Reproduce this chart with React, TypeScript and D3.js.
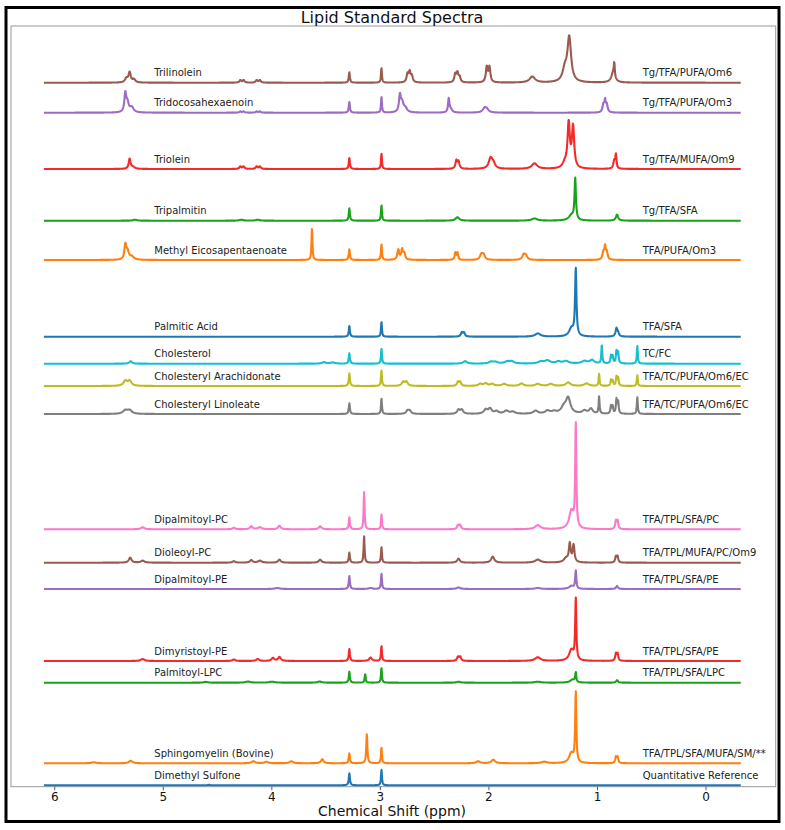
import React from 'react';
import * as d3 from 'd3';

// Spectrum names (left) and lipid classes (right), top to bottom
const names = [
  'Trilinolein', 'Tridocosahexaenoin', 'Triolein', 'Tripalmitin', 'Methyl Eicosapentaenoate',
  'Palmitic Acid', 'Cholesterol', 'Cholesteryl Arachidonate', 'Cholesteryl Linoleate',
  'Dipalmitoyl-PC', 'Dioleoyl-PC', 'Dipalmitoyl-PE', 'Dimyristoyl-PE', 'Palmitoyl-LPC',
  'Sphingomyelin (Bovine)', 'Dimethyl Sulfone',
];
const classes = [
  'Tg/TFA/PUFA/Om6', 'Tg/TFA/PUFA/Om3', 'Tg/TFA/MUFA/Om9', 'Tg/TFA/SFA', 'TFA/PUFA/Om3',
  'TFA/SFA', 'TC/FC', 'TFA/TC/PUFA/Om6/EC', 'TFA/TC/PUFA/Om6/EC',
  'TFA/TPL/SFA/PC', 'TFA/TPL/MUFA/PC/Om9', 'TFA/TPL/SFA/PE', 'TFA/TPL/SFA/PE', 'TFA/TPL/SFA/LPC',
  'TFA/TPL/SFA/MUFA/SM/**', 'Quantitative Reference',
];
const colors = [
  '#9a5a4e', '#9c6bc4', '#f42a2a', '#1aa31a', '#ff800e',
  '#1f77b4', '#17becf', '#bcbd22', '#7f7f7f',
  '#fb79c6', '#9a5a4e', '#9c6bc4', '#f42a2a', '#1aa31a',
  '#ff800e', '#1f77b4',
];
// vertical offset of each spectrum (intensity units)
const offsets = [702.6, 672.6, 616.3, 564.6, 525.3, 448.6, 421.6, 399.3, 371.3, 256, 222.6, 196.3, 124.3, 102.6, 22, 0];

type Peak = [number, number, number]; // [ppm, height, FWHM ppm]

const trilinolein: Peak[] = [
  [5.34, 4, 0.03], [5.31, 10, 0.025], [5.27, 3, 0.03],
  [4.29, 2.5, 0.02], [4.26, 2.5, 0.02], [4.14, 2.5, 0.02], [4.11, 2.5, 0.02],
  [3.286, 10.4, 0.012], [2.99, 15, 0.01],
  [2.75, 8, 0.02], [2.73, 10, 0.02], [2.71, 6, 0.02],
  [2.31, 8, 0.02], [2.29, 9, 0.02], [2.27, 5, 0.02],
  [2.02, 15, 0.02], [1.995, 15, 0.02],
  [1.6, 6, 0.06],
  [1.30, 12, 0.05], [1.26, 44, 0.04],
  [0.855, 10, 0.04], [0.845, 13, 0.01],
];
const tridocosahexaenoin: Peak[] = [
  [5.35, 18, 0.02], [5.33, 9, 0.03], [5.29, 5, 0.04],
  [4.29, 1.2, 0.02], [4.26, 1.2, 0.02], [4.14, 1.2, 0.02], [4.11, 1.2, 0.02],
  [3.286, 10.7, 0.012], [2.99, 16, 0.01],
  [2.82, 16, 0.02], [2.80, 9, 0.03], [2.77, 4, 0.04],
  [2.37, 14, 0.015], [2.35, 3, 0.03],
  [2.04, 4, 0.04], [2.02, 3, 0.04],
  [0.945, 8, 0.02], [0.93, 10, 0.012], [0.915, 8, 0.02],
];
const triolein: Peak[] = [
  [5.31, 10, 0.02], [5.28, 2, 0.04],
  [4.29, 2.5, 0.02], [4.26, 2.5, 0.02], [4.14, 2.5, 0.02], [4.11, 2.5, 0.02],
  [3.286, 11, 0.012], [2.99, 15.7, 0.01],
  [2.30, 8, 0.02], [2.28, 7, 0.02],
  [1.985, 10, 0.04], [1.96, 5, 0.04],
  [1.58, 5.5, 0.06],
  [1.30, 5, 0.05], [1.265, 44, 0.025], [1.225, 41, 0.025],
  [0.845, 8, 0.02], [0.83, 13, 0.012],
];
const tripalmitin: Peak[] = [
  [5.26, 1, 0.04], [4.28, 1, 0.04], [4.13, 1, 0.04],
  [3.286, 12.4, 0.012], [2.99, 15.7, 0.01],
  [2.29, 3.5, 0.04], [1.58, 2.2, 0.06],
  [1.24, 5, 0.06], [1.205, 41, 0.015],
  [0.82, 6, 0.025],
];
const methylEPA: Peak[] = [
  [5.35, 14, 0.02], [5.33, 8, 0.03], [5.29, 3, 0.05],
  [3.63, 32, 0.01],
  [3.286, 10.7, 0.012], [2.99, 16, 0.01],
  [2.835, 10, 0.02], [2.80, 10, 0.02], [2.78, 6, 0.02],
  [2.31, 7, 0.015], [2.29, 7, 0.015],
  [2.07, 5, 0.03], [2.05, 5, 0.03],
  [1.68, 5, 0.03], [1.66, 4, 0.03],
  [0.945, 8, 0.02], [0.93, 11, 0.012], [0.915, 8, 0.02],
];
const palmiticAcid: Peak[] = [
  [3.286, 10.7, 0.012], [2.99, 15, 0.01],
  [2.25, 4, 0.02], [2.23, 4, 0.02],
  [1.55, 3.2, 0.06],
  [1.24, 8, 0.05], [1.20, 67, 0.015],
  [0.825, 8, 0.02], [0.81, 3, 0.02],
];
const cholesterol: Peak[] = [
  [5.30, 2.5, 0.03], [3.52, 1.5, 0.04], [3.44, 1.2, 0.05],
  [3.286, 10.4, 0.012], [2.99, 15.4, 0.01],
  [2.22, 2.5, 0.04], [1.98, 1.8, 0.05], [1.94, 1.5, 0.05], [1.83, 2, 0.06], [1.79, 2, 0.05],
  [1.52, 2, 0.06], [1.46, 3, 0.06], [1.36, 2, 0.05], [1.29, 2.5, 0.06], [1.12, 2.5, 0.06], [1.05, 3.5, 0.05],
  [0.96, 19, 0.01], [0.875, 8, 0.012], [0.86, 7, 0.012], [0.825, 12, 0.012], [0.81, 11, 0.012],
  [0.633, 18, 0.01],
];
const cholArachidonate: Peak[] = [
  [5.35, 5, 0.04], [5.31, 5, 0.04],
  [3.286, 12.7, 0.012], [2.99, 16, 0.01],
  [2.79, 4, 0.03], [2.76, 4, 0.03],
  [2.285, 4, 0.02], [2.265, 4, 0.02],
  [2.08, 2, 0.04], [2.03, 2.5, 0.04], [1.97, 2, 0.04], [1.86, 2, 0.05], [1.70, 2.5, 0.04],
  [1.55, 2, 0.05], [1.43, 2, 0.05], [1.27, 3.5, 0.05], [1.10, 2.5, 0.05],
  [0.985, 12, 0.01], [0.875, 6, 0.012], [0.86, 5, 0.012], [0.825, 9, 0.012], [0.81, 8, 0.012],
  [0.633, 11, 0.01],
];
const cholLinoleate: Peak[] = [
  [5.35, 3.5, 0.05], [5.31, 3.5, 0.05],
  [3.286, 10.7, 0.012], [2.99, 15.7, 0.01],
  [2.75, 3, 0.03], [2.73, 3, 0.03],
  [2.28, 4, 0.03], [2.25, 4, 0.03],
  [2.03, 4, 0.04], [1.99, 5, 0.04],
  [1.93, 2.5, 0.04], [1.84, 3, 0.05], [1.78, 2, 0.05], [1.57, 3, 0.05], [1.46, 3, 0.05], [1.40, 2, 0.05],
  [1.31, 6, 0.06], [1.27, 15, 0.05],
  [1.12, 3, 0.05], [1.06, 5, 0.04],
  [0.985, 17, 0.01], [0.875, 8, 0.012], [0.86, 7, 0.012], [0.825, 14, 0.012], [0.81, 12, 0.012],
  [0.633, 17, 0.01],
];
const dipalmitoylPC: Peak[] = [
  [5.19, 2, 0.04], [4.35, 1.5, 0.03], [4.19, 3, 0.03], [4.11, 2, 0.04], [3.93, 3.5, 0.03], [3.555, 3, 0.03],
  [3.286, 12, 0.012], [3.15, 37.6, 0.01], [2.99, 15.3, 0.01],
  [2.285, 4, 0.02], [2.265, 4, 0.02],
  [1.55, 4, 0.06],
  [1.24, 18, 0.05], [1.20, 103, 0.012],
  [0.83, 8, 0.015], [0.815, 8, 0.015],
];
const dioleoylPC: Peak[] = [
  [5.305, 5, 0.03], [5.19, 2, 0.04], [4.35, 1.5, 0.03], [4.19, 2.5, 0.03], [4.11, 2, 0.04], [3.93, 3, 0.03], [3.555, 3, 0.03],
  [3.286, 10, 0.012], [3.15, 26.7, 0.01], [2.99, 16, 0.01],
  [2.28, 4, 0.03], [1.965, 6, 0.035], [1.55, 3, 0.06],
  [1.29, 4, 0.05], [1.255, 18, 0.02], [1.22, 17, 0.02],
  [0.83, 6, 0.015], [0.815, 6, 0.015],
];
const dipalmitoylPE: Peak[] = [
  [3.95, 1, 0.05], [3.286, 13, 0.012], [3.09, 1, 0.04], [2.99, 15.7, 0.01],
  [2.28, 1.5, 0.04], [1.55, 1, 0.06], [1.24, 3, 0.05], [1.20, 18, 0.012], [0.82, 3, 0.02],
];
const dimyristoylPE: Peak[] = [
  [5.19, 2, 0.04], [4.35, 1.5, 0.03], [4.13, 2, 0.03], [3.99, 3, 0.03], [3.93, 4, 0.03],
  [3.286, 12, 0.012], [3.09, 3.5, 0.03], [2.99, 15.3, 0.01],
  [2.285, 4, 0.02], [2.265, 4, 0.02],
  [1.55, 3.7, 0.06],
  [1.24, 11, 0.05], [1.20, 61, 0.012],
  [0.83, 7, 0.015], [0.815, 7, 0.015],
];
const palmitoylLPC: Peak[] = [
  [4.61, 0.8, 0.04], [4.22, 1.2, 0.05], [4.0, 1, 0.06], [3.56, 1.2, 0.04],
  [3.286, 11, 0.012], [3.14, 8.7, 0.01], [2.99, 15, 0.01],
  [2.28, 1, 0.04], [1.55, 1, 0.06], [1.23, 3, 0.05], [1.20, 9.5, 0.012], [0.82, 2.5, 0.02],
];
const sphingomyelin: Peak[] = [
  [5.64, 1, 0.05], [5.30, 2.5, 0.04], [4.17, 2, 0.04], [4.05, 1.5, 0.04], [3.82, 2, 0.04], [3.535, 4, 0.03],
  [3.286, 10, 0.012], [3.125, 29, 0.012], [2.99, 16, 0.01],
  [2.10, 2, 0.04], [1.96, 3.5, 0.04], [1.49, 1.5, 0.06],
  [1.24, 10, 0.05], [1.20, 70, 0.012],
  [0.83, 6, 0.015], [0.815, 6, 0.015],
];
const dimethylSulfone: Peak[] = [
  [4.58, 0.5, 0.02], [3.286, 12, 0.012], [2.99, 16, 0.01],
];

const peakLists = [
  trilinolein, tridocosahexaenoin, triolein, tripalmitin, methylEPA,
  palmiticAcid, cholesterol, cholArachidonate, cholLinoleate,
  dipalmitoylPC, dioleoylPC, dipalmitoylPE, dimyristoylPE, palmitoylLPC,
  sphingomyelin, dimethylSulfone,
];

const xTicks = [6, 5, 4, 3, 2, 1, 0];
const ppmStart = 6.1;
const ppmEnd = -0.32;

export default function App() {
  const W = 785, H = 830;
  const left = 11, right = 775.7, top = 26, bottom = 786.7;
  const x = d3.scaleLinear().domain([6.403, -0.642]).range([left, right]);
  const y = d3.scaleLinear().domain([-1.4, 759.3]).range([bottom, top]);
  const n = 2400;
  const grid = d3.range(n + 1).map((i) => ppmStart + ((ppmEnd - ppmStart) * i) / n);

  const spectrum = (peaks: Peak[]) =>
    grid.map((p) => {
      let v = 0;
      for (const [c, h, w] of peaks) {
        const u = (p - c) / (w / 2);
        v += h / (1 + u * u);
      }
      return [p, v] as [number, number];
    });

  const line = d3.line<[number, number]>().x((d) => x(d[0]));

  return (
    <svg width={W} height={H} style={{ position: 'absolute', left: 0, top: 0, background: '#fff' }}
      fontFamily="'DejaVu Sans', sans-serif">
      <rect x={0} y={0} width={W} height={H} fill="#fff" />
      <rect x={6} y={7.5} width={773} height={814} fill="none" stroke="#000" strokeWidth={3} />
      <rect x={left} y={top} width={right - left} height={bottom - top} fill="none" stroke="#9a9a9a" strokeWidth={1} />
      <text x={392} y={23} textAnchor="middle" fontSize={16} fill="#111">Lipid Standard Spectra</text>
      {peakLists.map((peaks, i) => {
        const off = offsets[i];
        const path = line.y((d) => y(off + d[1]))(spectrum(peaks)) || '';
        return (
          <g key={names[i]}>
            <path d={path} fill="none" stroke={colors[i]} strokeWidth={2.1} strokeLinejoin="round" />
            <text x={154.3} y={y(off) - 6.4} fontSize={10} fill="#222">{names[i]}</text>
            <text x={642.7} y={y(off) - 6.4} fontSize={10} fill="#222">{classes[i]}</text>
          </g>
        );
      })}
      {xTicks.map((t) => (
        <g key={t}>
          <line x1={x(t)} x2={x(t)} y1={bottom} y2={bottom + 3.5} stroke="#333" strokeWidth={0.8} />
          <text x={x(t)} y={801} textAnchor="middle" fontSize={12} fill="#111">{t}</text>
        </g>
      ))}
      <text x={392} y={816} textAnchor="middle" fontSize={14} fill="#111">Chemical Shift (ppm)</text>
    </svg>
  );
}
